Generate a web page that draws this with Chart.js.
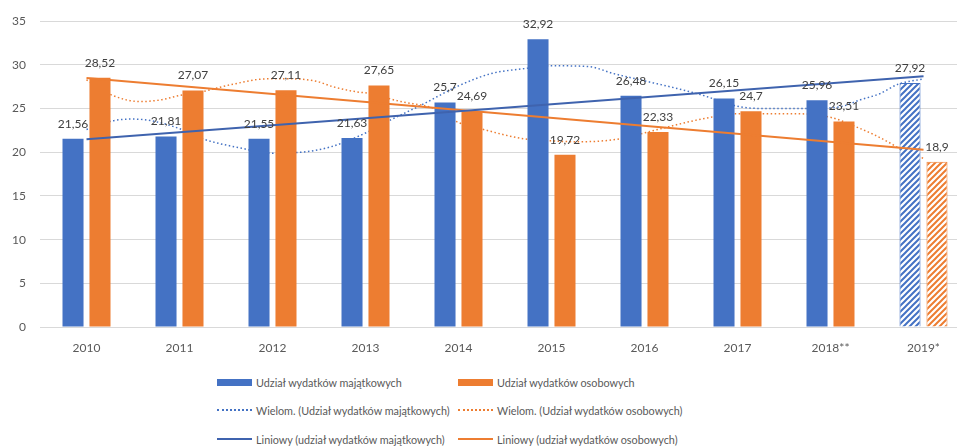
<!DOCTYPE html>
<html lang="pl">
<head>
<meta charset="utf-8">
<script src="https://cdn.jsdelivr.net/npm/chart.js@4.4.1/dist/chart.umd.min.js"></script>
<style>
  html, body { margin: 0; padding: 0; background: #fff; overflow: hidden; }
  body { width: 957px; height: 448px; position: relative; font-family: Lato, "Open Sans", sans-serif; }
  #wrap { position: absolute; left: 0; top: 0; width: 975px; height: 360px; }
  .legend { position: absolute; left: 0; top: 0; color: #595959; font-size: 10.8px; }
  .item { position: absolute; display: flex; align-items: center; height: 16px; white-space: nowrap; }
  .mark { width: 35px; margin-right: 4px; }
  .box { height: 7px; }
</style>
</head>
<body>
<div id="wrap"><canvas id="chart"></canvas></div>
<div class="legend" id="legend"></div>
<script>
// categories and values
const years = ['2010', '2011', '2012', '2013', '2014', '2015', '2016', '2017', '2018**', '2019*'];
const majatkowe = [21.56, 21.81, 21.55, 21.63, 25.7, 32.92, 26.48, 26.15, 25.96, 27.92];
const osobowe = [28.52, 27.07, 27.11, 27.65, 24.69, 19.72, 22.33, 24.7, 23.51, 18.9];
const yTicks = [0, 5, 10, 15, 20, 25, 30, 35];

// polynomial trend curves (Wielom.); x in category units
const polyMajX = [0, 0.28, 0.5, 0.7, 1.0, 1.23, 1.65, 2.0, 2.3, 2.62, 3.0, 3.27, 3.6, 4.0, 4.35, 4.73, 5.0, 5.4, 5.67, 6.03, 6.35, 6.6, 7.03, 7.33, 7.7, 8.1, 8.32, 8.53, 8.73, 9.0];
const polyMajY = [22.6, 23.6, 23.8, 23.6, 22.7, 21.6, 20.5, 19.9, 20.0, 20.6, 22.2, 23.7, 25.4, 27.6, 29.0, 29.6, 29.9, 29.8, 29.0, 28.1, 27.3, 26.6, 25.2, 25.0, 25.0, 25.2, 26.0, 26.7, 27.8, 28.4];
const polyOsobX = [0, 0.26, 0.58, 0.8, 1.0, 1.23, 1.58, 1.94, 2.2, 2.48, 2.65, 2.91, 3.0, 3.38, 3.74, 4.0, 4.27, 4.67, 5.0, 5.3, 5.71, 6.14, 6.57, 7.0, 7.3, 7.65, 8.0, 8.3, 8.47, 8.65, 8.76, 9.0];
const polyOsobY = [28.3, 26.6, 25.8, 26.0, 26.5, 26.9, 27.8, 28.4, 28.4, 28.1, 27.5, 26.9, 26.8, 25.8, 25.0, 23.4, 22.6, 21.6, 21.3, 21.2, 21.5, 22.6, 23.7, 24.4, 24.4, 24.4, 24.0, 22.8, 22.0, 21.0, 20.3, 19.3];

// linear trend lines (Liniowy), end points
const linX = [0, 9];
const linMajY = [21.5, 28.7];
const linOsobY = [28.5, 20.3];

const BLUE = '#4472C4';
const ORANGE = '#ED7D31';

function hatch(color) {
  const c = document.createElement('canvas');
  c.width = 6; c.height = 6;
  const g = c.getContext('2d');
  g.fillStyle = '#fff';
  g.fillRect(0, 0, 6, 6);
  g.strokeStyle = color;
  g.lineWidth = 2;
  g.beginPath();
  g.moveTo(-1, 7); g.lineTo(7, -1);
  g.moveTo(-4, 4); g.lineTo(4, -4);
  g.moveTo(2, 10); g.lineTo(10, 2);
  g.stroke();
  return g.createPattern(c, 'repeat');
}

const last = years.length - 1;
const fillFor = (color) => years.map((y, i) => i === last ? hatch(color) : color);
const borderFor = () => years.map((y, i) => i === last ? 1 : 0);
const pts = (xs, ys) => xs.map((x, i) => ({ x: x, y: ys[i] }));
const idxPts = (ys) => ys.map((v, i) => ({ x: i, y: v }));

// value labels above the bars
const barLabels = {
  id: 'barLabels',
  afterDatasetsDraw(chart) {
    const ctx = chart.ctx;
    ctx.save();
    ctx.font = '12px Lato, "Open Sans", sans-serif';
    ctx.fillStyle = '#404040';
    ctx.textAlign = 'center';
    ctx.textBaseline = 'middle';
    [0, 1].forEach(di => {
      const meta = chart.getDatasetMeta(di);
      meta.data.forEach((bar, i) => {
        const v = chart.data.datasets[di].data[i].y;
        ctx.fillText(String(v).replace('.', ','), bar.x, bar.y - 15);
      });
    });
    ctx.restore();
  }
};

new Chart(document.getElementById('chart'), {
  type: 'bar',
  data: {
    datasets: [
      {
        label: 'Udział wydatków majątkowych',
        data: idxPts(majatkowe),
        backgroundColor: fillFor(BLUE),
        borderColor: BLUE,
        borderWidth: borderFor(),
        categoryPercentage: 0.58,
        barPercentage: 0.78,
        order: 1
      },
      {
        label: 'Udział wydatków osobowych',
        data: idxPts(osobowe),
        backgroundColor: fillFor(ORANGE),
        borderColor: ORANGE,
        borderWidth: borderFor(),
        categoryPercentage: 0.58,
        barPercentage: 0.78,
        order: 1
      },
      {
        type: 'line',
        label: 'Wielom. (Udział wydatków majątkowych)',
        data: pts(polyMajX, polyMajY),
        borderColor: BLUE,
        borderWidth: 1.5,
        borderDash: [1.5, 2.5],
        pointRadius: 0,
        cubicInterpolationMode: 'monotone',
        order: 2
      },
      {
        type: 'line',
        label: 'Wielom. (Udział wydatków osobowych)',
        data: pts(polyOsobX, polyOsobY),
        borderColor: ORANGE,
        borderWidth: 1.5,
        borderDash: [1.5, 2.5],
        pointRadius: 0,
        cubicInterpolationMode: 'monotone',
        order: 2
      },
      {
        type: 'line',
        label: 'Liniowy (udział wydatków majątkowych)',
        data: pts(linX, linMajY),
        borderColor: '#3F63AE',
        borderWidth: 2,
        pointRadius: 0,
        order: 0
      },
      {
        type: 'line',
        label: 'Liniowy (udział wydatków osobowych)',
        data: pts(linX, linOsobY),
        borderColor: ORANGE,
        borderWidth: 2,
        pointRadius: 0,
        order: 0
      }
    ]
  },
  options: {
    responsive: true,
    maintainAspectRatio: false,
    animation: false,
    layout: { padding: { top: 19, right: 5, left: 0, bottom: 0 } },
    plugins: {
      legend: { display: false },
      tooltip: { enabled: false }
    },
    scales: {
      x: {
        type: 'linear',
        min: -0.5,
        max: 9.5,
        offset: false,
        afterBuildTicks: (s) => { s.ticks = years.map((y, i) => ({ value: i })); },
        grid: { display: false },
        border: { display: false },
        ticks: {
          color: '#595959',
          font: { family: 'Lato', size: 12 },
          padding: 6,
          maxRotation: 0,
          autoSkip: false,
          callback: (v) => years[v]
        },
        afterFit: (s) => { s.height = 33; }
      },
      y: {
        min: 0,
        max: 35,
        afterBuildTicks: (s) => { s.ticks = yTicks.map(v => ({ value: v })); },
        grid: { color: '#D9D9D9', drawTicks: false },
        border: { display: false },
        ticks: {
          color: '#595959',
          font: { family: 'Lato', size: 12 },
          padding: 14
        },
        afterFit: (s) => { s.width = 40; }
      }
    }
  },
  plugins: [barLabels]
});

// two-column legend as in the original
const legendItems = [
  { text: 'Udział wydatków majątkowych', color: BLUE, kind: 'box', x: 217, y: 382 },
  { text: 'Udział wydatków osobowych', color: ORANGE, kind: 'box', x: 458, y: 382 },
  { text: 'Wielom. (Udział wydatków majątkowych)', color: BLUE, kind: 'dot', x: 217, y: 410 },
  { text: 'Wielom. (Udział wydatków osobowych)', color: ORANGE, kind: 'dot', x: 458, y: 410 },
  { text: 'Liniowy (udział wydatków majątkowych)', color: '#3F63AE', kind: 'line', x: 217, y: 439 },
  { text: 'Liniowy (udział wydatków osobowych)', color: ORANGE, kind: 'line', x: 458, y: 439 }
];
const legend = document.getElementById('legend');
legendItems.forEach(it => {
  const el = document.createElement('div');
  el.className = 'item';
  el.style.left = it.x + 'px';
  el.style.top = (it.y - 8) + 'px';
  const m = document.createElement('span');
  m.className = 'mark';
  if (it.kind === 'box') {
    m.classList.add('box');
    m.style.background = it.color;
  } else if (it.kind === 'dot') {
    m.style.borderTop = '2px dotted ' + it.color;
  } else {
    m.style.borderTop = '2px solid ' + it.color;
  }
  const t = document.createElement('span');
  t.textContent = it.text;
  el.appendChild(m);
  el.appendChild(t);
  legend.appendChild(el);
});
</script>
</body>
</html>
